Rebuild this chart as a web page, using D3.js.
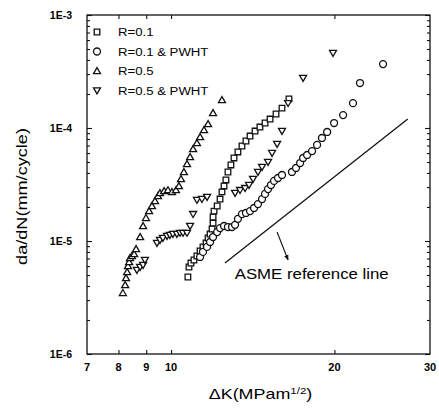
<!DOCTYPE html>
<html>
<head>
<meta charset="utf-8">
<script src="https://cdn.jsdelivr.net/npm/d3@7"></script>
<style>
  body { margin: 0; background: #fff; }
  svg { display: block; font-family: "Liberation Sans", Arial, sans-serif; }
</style>
</head>
<body>
<div id="chart"></div>
<script>
// --- data (dK in MPa m^1/2, da/dN in mm/cycle) ---
const xTicks = [7, 8, 9, 10, 20, 30];
const yTicks = [1e-6, 1e-5, 1e-4, 1e-3];
const yTickLabels = ["1E-6", "1E-5", "1E-4", "1E-3"];

const legendLabels = ["R=0.1", "R=0.1 & PWHT", "R=0.5", "R=0.5 & PWHT"];
const legendSymbols = ["square", "circle", "up", "down"];

// R=0.1 (squares)
const r01K = [10.74, 10.79, 10.88, 11.02, 11.16, 11.31, 11.45, 11.60, 11.70, 11.80, 11.90, 11.95, 11.95, 12.00, 12.16, 12.31,
  12.41, 12.52, 12.62, 12.73, 12.89, 13.06, 13.28, 13.51, 13.74, 13.98, 14.28, 14.58, 14.90, 15.22, 15.61, 16.01, 16.49];
const r01Rate = [4.8e-6, 5.89e-6, 6.38e-6, 6.79e-6, 7.37e-6, 8.16e-6, 8.86e-6, 9.6e-6, 1.064e-5, 1.153e-5, 1.277e-5, 1.44e-5,
  1.63e-5, 1.84e-5, 2.04e-5, 2.35e-5, 2.72e-5, 3.07e-5, 3.47e-5, 4.08e-5, 4.71e-5, 5.43e-5, 6.14e-5, 6.93e-5, 7.67e-5,
  8.49e-5, 9.4e-5, 1.02e-4, 1.107e-4, 1.2e-4, 1.33e-4, 1.5e-4, 1.81e-4];

// R=0.1 & PWHT (circles)
const r01pK = [11.31, 11.45, 11.65, 11.80, 11.95, 12.16, 12.31, 12.52, 12.73, 12.95, 13.12, 13.28, 13.51, 13.74, 13.98, 14.22,
  14.46, 14.71, 14.90, 15.09, 15.28, 15.48, 15.74, 16.01, 16.70, 16.99, 17.29, 17.51, 17.81, 18.19, 18.58, 18.97, 19.39,
  19.97, 20.75, 21.64, 22.29, 24.58];
const r01pRate = [7.22e-6, 8.0e-6, 8.86e-6, 9.8e-6, 1.084e-5, 1.2e-5, 1.3e-5, 1.358e-5, 1.33e-5, 1.33e-5, 1.39e-5, 1.57e-5,
  1.73e-5, 1.77e-5, 1.84e-5, 1.96e-5, 2.12e-5, 2.35e-5, 2.61e-5, 2.88e-5, 3.13e-5, 3.4e-5, 3.61e-5, 3.84e-5, 4.08e-5,
  4.43e-5, 4.9e-5, 5.43e-5, 5.77e-5, 6.25e-5, 7.08e-5, 8.16e-5, 9.22e-5, 1.107e-4, 1.3e-4, 1.66e-4, 2.5e-4, 3.68e-4];

// R=0.5 (up triangles)
const r05K = [8.15, 8.23, 8.26, 8.30, 8.33, 8.37, 8.40, 8.47, 8.55, 8.62, 8.77, 8.88, 8.99, 9.11, 9.22, 9.34, 9.46, 9.54,
  9.71, 9.87, 10.04, 10.21, 10.34, 10.43, 10.56, 10.70, 10.84, 10.98, 11.16, 11.31, 11.50, 11.70, 11.95, 12.41];
const r05Rate = [3.47e-6, 4.08e-6, 4.71e-6, 5.32e-6, 6.01e-6, 6.52e-6, 7.08e-6, 7.37e-6, 7.67e-6, 8.49e-6, 1.084e-5,
  1.358e-5, 1.6e-5, 1.84e-5, 2.04e-5, 2.26e-5, 2.5e-5, 2.66e-5, 2.77e-5, 2.82e-5, 2.72e-5, 2.82e-5, 3.07e-5, 3.54e-5,
  4.08e-5, 4.8e-5, 5.54e-5, 6.52e-5, 7.37e-5, 8.32e-5, 9.6e-5, 1.084e-4, 1.358e-4, 1.77e-4];

// R=0.5 & PWHT (down triangles)
const r05pK = [8.65, 8.77, 8.88, 8.95, 9.42, 9.54, 9.66, 9.83, 9.95, 10.08, 10.25, 10.39, 10.52, 10.70, 10.84, 10.98, 11.16,
  11.40, 11.65, 13.12, 13.40, 13.69, 13.92, 14.16, 14.46, 14.71, 15.09, 15.35, 15.68, 16.01, 16.43, 17.51, 19.88];
const r05pRate = [5.54e-6, 5.89e-6, 6.14e-6, 6.79e-6, 9.6e-6, 1.02e-5, 1.064e-5, 1.107e-5, 1.13e-5, 1.153e-5, 1.153e-5,
  1.18e-5, 1.18e-5, 1.18e-5, 1.358e-5, 1.73e-5, 2.31e-5, 2.35e-5, 2.45e-5, 2.66e-5, 2.82e-5, 2.94e-5, 3.13e-5, 3.54e-5,
  4.08e-5, 4.52e-5, 5.0e-5, 6.01e-5, 7.22e-5, 9.4e-5, 1.66e-4, 2.77e-4, 4.61e-4];

// ASME reference line end points and its arrow
const asmeK = [12.57, 27.3];
const asmeRate = [6.4e-6, 1.2e-4];
const arrowK = [15.68, 16.43];
const arrowRate = [1.2e-5, 6.8e-6];

const series = [
  { name: legendLabels[0], sym: "square", k: r01K, rate: r01Rate },
  { name: legendLabels[1], sym: "circle", k: r01pK, rate: r01pRate },
  { name: legendLabels[2], sym: "up", k: r05K, rate: r05Rate },
  { name: legendLabels[3], sym: "down", k: r05pK, rate: r05pRate }
];

const width = 439, height = 412;
const margin = { left: 87, right: 9, top: 15, bottom: 58 };

const x = d3.scaleLog().domain([7, 30]).range([margin.left, width - margin.right]);
const y = d3.scaleLog().domain([1e-6, 1e-3]).range([height - margin.bottom, margin.top]);

const svg = d3.select("#chart").append("svg")
    .attr("width", width).attr("height", height);

// marker shapes
function symbolPath(type) {
  if (type === "circle") return d3.symbol(d3.symbolCircle, 38)();
  if (type === "square") return "M-2.8,-2.8H2.8V2.8H-2.8Z";
  if (type === "up") return "M0,-3.4L3.5,2.6H-3.5Z";
  return "M0,3.4L3.5,-2.6H-3.5Z";
}

// --- axes frame ---
const x0 = x.range()[0], x1 = x.range()[1], y0 = y.range()[0], y1 = y.range()[1];

svg.append("rect")
    .attr("x", x0).attr("y", y1).attr("width", x1 - x0).attr("height", y0 - y1)
    .attr("fill", "none").attr("stroke", "#111").attr("stroke-width", 1.3);

// y ticks (major + minor), inward on both sides
const yMinor = [];
for (let e = -6; e < -3; e++) for (let m = 2; m <= 9; m++) yMinor.push(m * Math.pow(10, e));

const yAxisL = d3.axisRight(y).tickValues(yTicks).tickSize(5).tickFormat("");
const yAxisLm = d3.axisRight(y).tickValues(yMinor).tickSize(3).tickFormat("");
const yAxisR = d3.axisLeft(y).tickValues(yTicks).tickSize(5).tickFormat("");
const yAxisRm = d3.axisLeft(y).tickValues(yMinor).tickSize(3).tickFormat("");

[[yAxisL, x0], [yAxisLm, x0], [yAxisR, x1], [yAxisRm, x1]].forEach(([ax, px]) => {
  const g = svg.append("g").attr("transform", `translate(${px},0)`).call(ax);
  g.select(".domain").remove();
  g.selectAll("line").attr("stroke", "#111").attr("stroke-width", 1.1);
});

// x ticks inward at bottom and top
const xInner = [8, 9, 10, 20];
[[d3.axisTop(x), y0], [d3.axisBottom(x), y1]].forEach(([ax, py]) => {
  const g = svg.append("g").attr("transform", `translate(0,${py})`)
      .call(ax.tickValues(xInner).tickSize(4).tickFormat(""));
  g.select(".domain").remove();
  g.selectAll("line").attr("stroke", "#111").attr("stroke-width", 1.1);
});

// tick labels
svg.append("g").selectAll("text").data(yTicks).join("text")
    .attr("x", x0 - 15).attr("y", d => y(d) + 4)
    .attr("text-anchor", "end")
    .style("font-size", "10.5px").style("font-weight", "bold")
    .text((d, i) => yTickLabels[i]);

svg.append("g").selectAll("text").data(xTicks).join("text")
    .attr("x", d => x(d)).attr("y", y0 + 17)
    .attr("text-anchor", "middle")
    .style("font-size", "11px").style("font-weight", "bold")
    .text(d => d);

// axis titles (scan is stretched horizontally, so text is too)
svg.append("text")
    .attr("transform", `translate(27,${(y0 + y1) / 2 + 12}) rotate(-90) scale(1.25,1)`)
    .attr("text-anchor", "middle")
    .style("font-size", "14.5px")
    .text("da/dN(mm/cycle)");

const xl = svg.append("text")
    .attr("transform", `translate(${(x0 + x1) / 2 + 2},${y0 + 45}) scale(1.28,1)`)
    .attr("text-anchor", "middle")
    .style("font-size", "14px");
xl.append("tspan").text("ΔK(MPam");
xl.append("tspan").attr("dy", -5).style("font-size", "9px").text("1/2");
xl.append("tspan").attr("dy", 5).text(")");

// --- ASME reference line ---
svg.append("line")
    .attr("x1", x(asmeK[0])).attr("y1", y(asmeRate[0]))
    .attr("x2", x(asmeK[1])).attr("y2", y(asmeRate[1]))
    .attr("stroke", "#111").attr("stroke-width", 1.3);

svg.append("defs").append("marker")
    .attr("id", "arr").attr("viewBox", "0 0 10 10").attr("refX", 9).attr("refY", 5)
    .attr("markerWidth", 5).attr("markerHeight", 6).attr("orient", "auto")
  .append("path").attr("d", "M0,1L10,5L0,9Z").attr("fill", "#111");

svg.append("line")
    .attr("x1", x(arrowK[0])).attr("y1", y(arrowRate[0]))
    .attr("x2", x(arrowK[1])).attr("y2", y(arrowRate[1]))
    .attr("stroke", "#111").attr("stroke-width", 1.1)
    .attr("marker-end", "url(#arr)");

svg.append("text")
    .attr("transform", `translate(${x(13.1)},${y(4.6e-6)}) scale(1.2,1)`)
    .style("font-size", "14px")
    .text("ASME reference line");

// --- data points ---
series.forEach(s => {
  svg.append("g").selectAll("path")
    .data(s.k.map((k, i) => [k, s.rate[i]]))
    .join("path")
      .attr("transform", d => `translate(${x(d[0])},${y(d[1])})`)
      .attr("d", symbolPath(s.sym))
      .attr("fill", "#fff").attr("stroke", "#111").attr("stroke-width", 1.3);
});

// --- legend ---
const legend = svg.append("g").attr("transform", "translate(97,32)");
legendLabels.forEach((lab, i) => {
  const row = legend.append("g").attr("transform", `translate(0,${i * 19.5})`);
  row.append("path").attr("d", symbolPath(legendSymbols[i]))
      .attr("fill", "#fff").attr("stroke", "#111").attr("stroke-width", 1.3);
  row.append("text").attr("transform", "translate(21,4) scale(1.2,1)")
      .style("font-size", "11px").text(lab);
});
</script>
</body>
</html>
